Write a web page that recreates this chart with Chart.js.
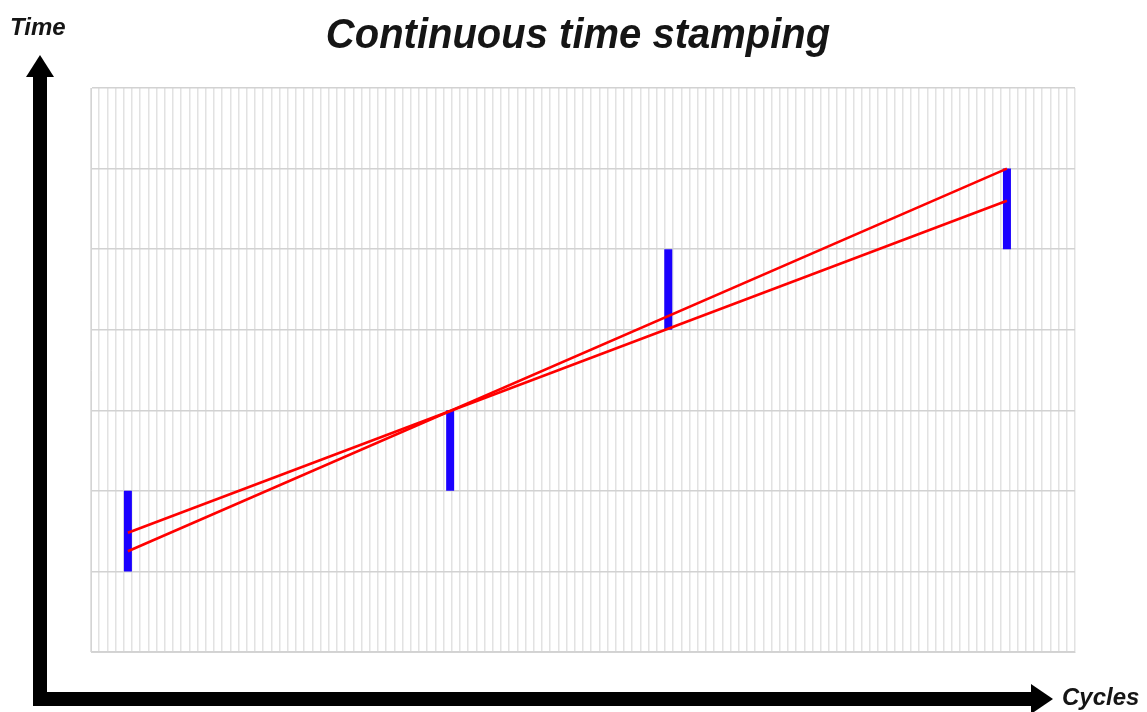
<!DOCTYPE html>
<html>
<head>
<meta charset="utf-8">
<title>Continuous time stamping</title>
<script src="https://cdn.jsdelivr.net/npm/chart.js@4/dist/chart.umd.min.js"></script>
<style>
  html, body { margin: 0; padding: 0; background: #fff; }
  canvas { display: block; }
</style>
</head>
<body>
<canvas id="chart" width="1147" height="712"></canvas>
<script>
// time stamps taken at these cycle counts
const stampCycles = [4.5, 43.8, 70.4, 111.7];
// uncertainty window of each stamp (low / high time)
const stampLow = [1, 2, 4, 5];
const stampHigh = [2, 3, 5, 6];
// two fitted lines through the windows
const fitCycles = [4.5, 111.7];
const fitUpper = [1.48, 5.6];
const fitLower = [1.25, 6.0];

const xMax = 120;
const yMax = 7;

const titleText = 'Continuous time stamping';
const yLabel = 'Time';
const xLabel = 'Cycles';

function stampPoints() {
  let pts = [];
  stampCycles.forEach((c, i) => {
    pts.push({x: c, y: stampLow[i]});
    pts.push({x: c, y: stampHigh[i]});
    pts.push({x: c, y: null});
  });
  return pts;
}

function linePoints(ys) {
  return fitCycles.map((c, i) => ({x: c, y: ys[i]}));
}

const axesArrows = {
  id: 'axesArrows',
  afterDraw(chart) {
    const ctx = chart.ctx;
    ctx.save();
    ctx.fillStyle = '#000';
    // vertical shaft + corner + horizontal shaft
    ctx.fillRect(33, 74, 14, 632);
    ctx.fillRect(33, 692, 1001, 14);
    // up arrow head
    ctx.beginPath();
    ctx.moveTo(40, 55);
    ctx.lineTo(54, 77);
    ctx.lineTo(26, 77);
    ctx.closePath();
    ctx.fill();
    // right arrow head
    ctx.beginPath();
    ctx.moveTo(1053, 699);
    ctx.lineTo(1031, 684);
    ctx.lineTo(1031, 714);
    ctx.closePath();
    ctx.fill();

    ctx.fillStyle = '#151515';
    ctx.textBaseline = 'alphabetic';
    ctx.textAlign = 'center';
    // title is a bit condensed in the original
    ctx.save();
    ctx.translate(578, 48);
    ctx.scale(0.93, 1);
    ctx.font = 'bold italic 43px "Liberation Sans", Arial, sans-serif';
    ctx.fillText(titleText, 0, 0);
    ctx.restore();
    ctx.textAlign = 'left';
    ctx.font = 'bold italic 24px "Liberation Sans", Arial, sans-serif';
    ctx.fillText(yLabel, 10, 35);
    ctx.fillText(xLabel, 1062, 705);
    ctx.restore();
  }
};

new Chart(document.getElementById('chart'), {
  type: 'line',
  data: {
    datasets: [
      {
        label: 'upper fit',
        data: linePoints(fitUpper),
        borderColor: '#ff0000',
        borderWidth: 2.6,
        pointRadius: 0,
        order: 1
      },
      {
        label: 'lower fit',
        data: linePoints(fitLower),
        borderColor: '#ff0000',
        borderWidth: 2.6,
        pointRadius: 0,
        order: 1
      },
      {
        label: 'stamps',
        data: stampPoints(),
        borderColor: '#1a00ff',
        borderWidth: 8,
        borderCapStyle: 'butt',
        pointRadius: 0,
        spanGaps: false,
        order: 2
      }
    ]
  },
  options: {
    responsive: false,
    animation: false,
    layout: {
      padding: {left: 91, top: 88, right: 72, bottom: 60}
    },
    plugins: {
      legend: {display: false},
      tooltip: {enabled: false},
      title: {display: false}
    },
    scales: {
      x: {
        type: 'linear',
        min: 0,
        max: xMax,
        ticks: {display: false, stepSize: 1, maxTicksLimit: 200},
        grid: {color: '#e2e2e2', lineWidth: 1.5, drawTicks: false},
        border: {color: '#d4d4d4'}
      },
      y: {
        type: 'linear',
        min: 0,
        max: yMax,
        ticks: {display: false, stepSize: 1},
        grid: {color: '#d2d2d2', lineWidth: 1.5, drawTicks: false},
        border: {color: '#d4d4d4'}
      }
    }
  },
  plugins: [axesArrows]
});
</script>
</body>
</html>
